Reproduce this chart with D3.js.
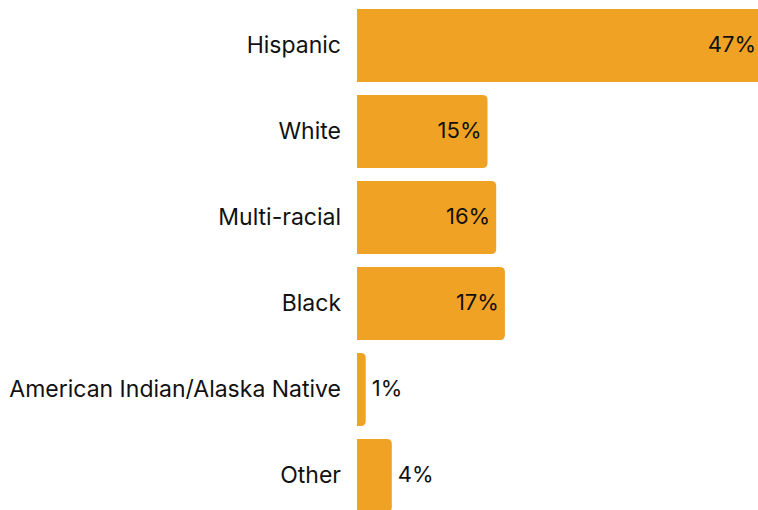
<!DOCTYPE html>
<html><head><meta charset="utf-8">
<script src="https://cdn.jsdelivr.net/npm/d3@7"></script>
<style>body{margin:0;background:#fff}svg{display:block}</style>
</head><body>
<svg id="c" width="758" height="510"></svg>
<script>
const categories = ["Hispanic","White","Multi-racial","Black","American Indian/Alaska Native","Other"];
const values = [47,15,16,17,1,4];
const valueLabels = ["47%","15%","16%","17%","1%","4%"];

const svg = d3.select("#c");
const font = "Inter, 'Open Sans', sans-serif";
const x = d3.scaleLinear().domain([0,100]).range([357,1227]);
const y = d3.scaleBand().domain(categories).range([9,512]).paddingInner(13/86).paddingOuter(0);
const color = "#F0A224";
const r = 5;
const W = 758;

function barPath(x0,x1,y0,h){
  const rr = Math.min(r,(x1-x0));
  return `M${x0},${y0}H${x1-rr}Q${x1},${y0} ${x1},${y0+rr}V${y0+h-rr}Q${x1},${y0+h} ${x1-rr},${y0+h}H${x0}Z`;
}

const data = categories.map((c,i)=>({c,v:values[i],l:valueLabels[i]}));

svg.selectAll("path.bar").data(data).join("path")
  .attr("class","bar")
  .attr("fill",color)
  .attr("d",d=>barPath(x(0),x(d.v),y(d.c),y.bandwidth()));

svg.selectAll("text.cat").data(data).join("text")
  .attr("class","cat")
  .attr("x",341)
  .attr("y",d=>y(d.c)+y.bandwidth()/2-1)
  .attr("dy","0.35em")
  .attr("text-anchor","end")
  .attr("font-family",font)
  .attr("font-size",23)
  .attr("fill","#111")
  .text(d=>d.c);

svg.selectAll("text.val").data(data).join("text")
  .attr("class","val")
  .attr("x",d=> d.v>=10 ? Math.min(x(d.v)-6, W-2) : x(d.v)+6)
  .attr("y",d=>y(d.c)+y.bandwidth()/2-1)
  .attr("dy","0.35em")
  .attr("text-anchor",d=> d.v>=10 ? "end" : "start")
  .attr("font-family",font)
  .attr("font-size",22)
  .attr("fill","#111")
  .text(d=>d.l);
</script>
</body></html>
